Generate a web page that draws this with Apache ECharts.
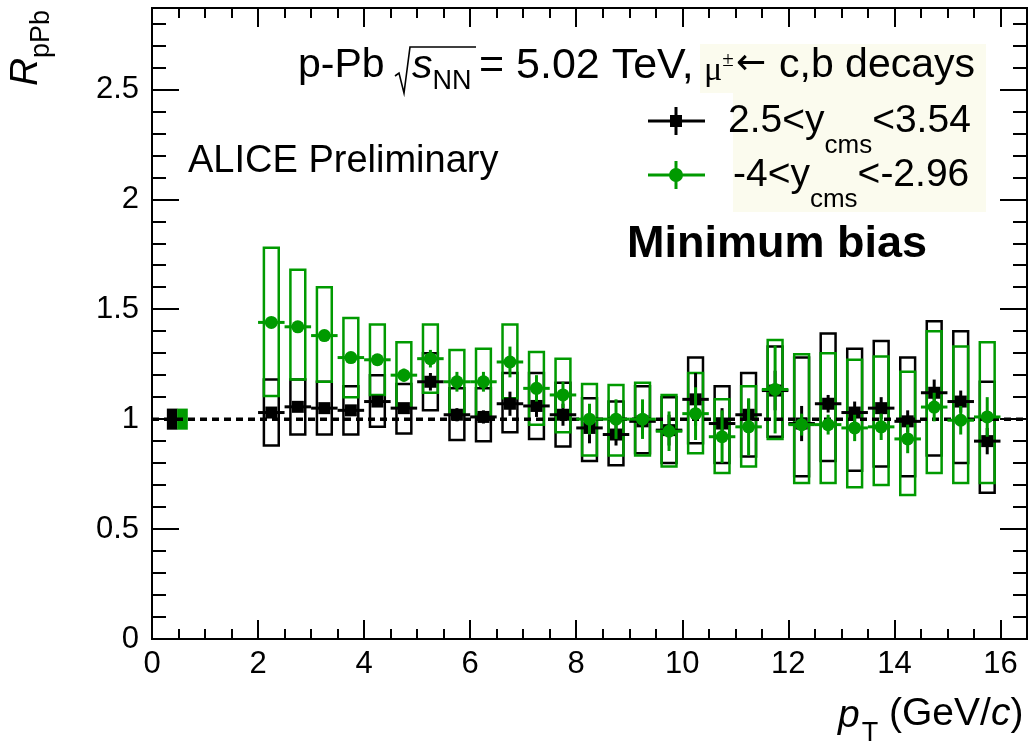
<!DOCTYPE html>
<html><head><meta charset="utf-8">
<script src="https://cdn.jsdelivr.net/npm/echarts/dist/echarts.min.js"></script>
<style>html,body{margin:0;padding:0;background:#fff}#c{width:1032px;height:744px}</style>
</head><body><div id="c"></div>
<script>
// ---------------- data ----------------
const pt = [2.25,2.75,3.25,3.75,4.25,4.75,5.25,5.75,6.25,6.75,7.25,7.75,8.25,8.75,9.25,9.75,10.25,10.75,11.25,11.75,12.25,12.75,13.25,13.75,14.25,14.75,15.25,15.75];
const binHalfWidth = 0.25;

// 2.5 < y_cms < 3.54 (black)
const fwdVal   = [1.03,1.056,1.05,1.04,1.08,1.05,1.17,1.02,1.01,1.07,1.06,1.02,0.96,0.93,0.99,0.95,1.09,0.98,1.02,1.13,0.98,1.07,1.03,1.05,0.99,1.12,1.08,0.90];
const fwdStat  = [0.02,0.02,0.02,0.02,0.02,0.02,0.04,0.03,0.03,0.055,0.05,0.05,0.07,0.05,0.06,0.07,0.12,0.07,0.07,0.09,0.08,0.04,0.05,0.05,0.05,0.06,0.05,0.06];
const fwdSysLo = [0.88,0.93,0.93,0.93,0.965,0.935,1.04,0.905,0.90,0.94,0.91,0.875,0.81,0.79,0.845,0.80,0.89,0.80,0.83,0.92,0.74,0.81,0.765,0.785,0.74,0.835,0.80,0.665];
const fwdSysHi = [1.18,1.18,1.17,1.15,1.20,1.16,1.30,1.14,1.14,1.21,1.21,1.165,1.095,1.08,1.15,1.10,1.28,1.15,1.21,1.33,1.28,1.39,1.32,1.355,1.28,1.445,1.40,1.17];

// -4 < y_cms < -2.96 (green)
const bwdVal   = [1.44,1.42,1.38,1.28,1.27,1.20,1.275,1.17,1.17,1.26,1.14,1.11,1.00,1.00,1.00,0.945,1.025,0.92,0.965,1.135,0.975,0.975,0.96,0.965,0.91,1.055,0.995,1.01];
const bwdStat  = [0.01,0.01,0.01,0.02,0.02,0.03,0.04,0.045,0.045,0.07,0.06,0.06,0.07,0.09,0.09,0.09,0.12,0.12,0.13,0.2,0.05,0.045,0.06,0.06,0.065,0.065,0.065,0.09];
const bwdSysLo = [1.105,1.18,1.17,1.10,1.11,1.055,1.12,1.02,1.02,1.095,0.975,0.94,0.835,0.835,0.835,0.785,0.845,0.755,0.785,0.91,0.71,0.71,0.69,0.70,0.655,0.755,0.71,0.71];
const bwdSysHi = [1.78,1.68,1.60,1.46,1.43,1.35,1.43,1.315,1.32,1.43,1.305,1.275,1.16,1.155,1.165,1.11,1.21,1.09,1.15,1.36,1.295,1.30,1.27,1.285,1.215,1.40,1.33,1.35];

// normalisation uncertainties (boxes at R=1)
const normX   = [0.38, 0.575];
const normUnc = [0.048, 0.048];

const xTicks = [0,2,4,6,8,10,12,14,16];
const yTicks = [0,0.5,1,1.5,2,2.5];

// ---------------- style ----------------
const FS = '"Liberation Sans", Arial, Helvetica, sans-serif';
const SERIF = '"Liberation Serif", "DejaVu Serif", serif';
const BLACK = '#000000';
const GREEN = '#009a00';
const BOXW = 0.14, NORMW = 0.1;
const X0 = 0, X1 = 16.5, Y0 = 0, Y1 = 2.87;

const chart = echarts.init(document.getElementById('c'), null, {renderer: 'canvas'});

const lineStyle = {color: '#000', width: 2};
function xAx(pos, interval, len, lab) {
  return {type: 'value', gridIndex: 0, position: pos, min: X0, max: X1, interval: interval,
    axisLine: {show: true, onZero: false, lineStyle: lineStyle},
    axisTick: {show: true, inside: true, length: len, lineStyle: lineStyle},
    axisLabel: {show: lab, showMaxLabel: false, showMinLabel: true, color: '#000', fontSize: 31, fontFamily: FS, margin: 10,
      formatter: v => xTicks.indexOf(v) >= 0 ? String(v) : ''},
    splitLine: {show: false}, minorTick: {show: false}};
}
function yAx(pos, interval, len, lab) {
  return {type: 'value', gridIndex: 0, position: pos, min: Y0, max: Y1, interval: interval,
    axisLine: {show: true, onZero: false, lineStyle: lineStyle},
    axisTick: {show: true, inside: true, length: len, lineStyle: lineStyle},
    axisLabel: {show: lab, showMaxLabel: false, showMinLabel: true, color: '#000', fontSize: 31, fontFamily: FS, margin: 13,
      formatter: v => { const i = yTicks.findIndex(t => Math.abs(t - v) < 1e-6); return i >= 0 ? String(yTicks[i]) : ''; }},
    splitLine: {show: false}, minorTick: {show: false}};
}

function boxRender(color) {
  return function (params, api) {
    const x = api.value(0), lo = api.value(1), hi = api.value(2);
    const p1 = api.coord([x - BOXW, hi]), p2 = api.coord([x + BOXW, lo]);
    return {type: 'rect', shape: {x: p1[0], y: p1[1], width: p2[0] - p1[0], height: p2[1] - p1[1]},
      style: {fill: 'none', stroke: color, lineWidth: 2.5, opacity: 1}};
  };
}
function errRender(color) {
  return function (params, api) {
    const x = api.value(0), v = api.value(1), e = api.value(2);
    const t = api.coord([x, v + e]), b = api.coord([x, v - e]);
    const l = api.coord([x - binHalfWidth, v]), r = api.coord([x + binHalfWidth, v]);
    return {type: 'group', children: [
      {type: 'line', shape: {x1: t[0], y1: t[1], x2: b[0], y2: b[1]}, style: {stroke: color, lineWidth: 3, opacity: 1}},
      {type: 'line', shape: {x1: l[0], y1: l[1], x2: r[0], y2: r[1]}, style: {stroke: color, lineWidth: 3, opacity: 1}}
    ]};
  };
}
function normRender(params, api) {
  const x = api.value(0), u = api.value(1);
  const p1 = api.coord([x - NORMW, 1 + u]), p2 = api.coord([x + NORMW, 1 - u]);
  return {type: 'rect', shape: {x: p1[0], y: p1[1], width: p2[0] - p1[0], height: p2[1] - p1[1]},
    style: {fill: params.dataIndex === 0 ? BLACK : GREEN, opacity: 1}};
}

// text layout helper
const mctx = document.createElement('canvas').getContext('2d');
function tw(t, font) { mctx.font = font; return mctx.measureText(t).width; }
function seq(x, pieces) {
  const out = []; let cx = x;
  for (const p of pieces) {
    const font = (p.italic ? 'italic ' : '') + (p.bold ? 'bold ' : '') + p.size + 'px ' + (p.family || FS);
    cx += (p.dx || 0);
    out.push({type: 'text', x: cx, y: p.y, z: 100,
      style: {text: p.t, font: font, fill: p.fill || '#000', textAlign: 'left', textVerticalAlign: 'middle', align: 'left', verticalAlign: 'middle'}});
    cx += tw(p.t, font);
  }
  return out;
}

const graphics = [];
// light legend background
graphics.push({type: 'rect', shape: {x: 700, y: 44, width: 286, height: 49}, style: {fill: '#fbfbee'}, z: 50});
graphics.push({type: 'rect', shape: {x: 733, y: 93, width: 253, height: 119}, style: {fill: '#fbfbee'}, z: 50});
// header
graphics.push(...seq(298, [{t: 'p-Pb', size: 41, y: 66}]));
graphics.push({type: 'polyline', shape: {points: [[395, 76], [399, 73], [404, 93], [410, 47], [476, 47]]}, style: {stroke: '#000', lineWidth: 1.6, fill: null}, z: 100});
graphics.push(...seq(412, [{t: 's', size: 41, y: 67, italic: true}, {t: 'NN', size: 27, y: 82}]));
graphics.push(...seq(479, [{t: '= 5.02 TeV,', size: 43, y: 66}]));
graphics.push(...seq(704, [{t: 'μ', size: 34, y: 71, family: SERIF}, {t: '±', size: 21, y: 60, family: SERIF}]));
graphics.push(...seq(736, [{t: '←', size: 36, y: 65, family: '"DejaVu Sans", sans-serif'}]));
graphics.push(...seq(779, [{t: 'c,b decays', size: 41, y: 66}]));
// legend rows
graphics.push({type: 'line', shape: {x1: 648, y1: 121, x2: 705, y2: 121}, style: {stroke: BLACK, lineWidth: 3}, z: 100});
graphics.push({type: 'line', shape: {x1: 676, y1: 107, x2: 676, y2: 135}, style: {stroke: BLACK, lineWidth: 3}, z: 100});
graphics.push({type: 'rect', shape: {x: 670, y: 115, width: 12, height: 12}, style: {fill: BLACK}, z: 100});
graphics.push(...seq(728, [{t: '2.5<y', size: 39, y: 121}, {t: 'cms', size: 26, y: 146}, {t: '<3.54', size: 39, y: 121}]));
graphics.push({type: 'line', shape: {x1: 648, y1: 175, x2: 705, y2: 175}, style: {stroke: GREEN, lineWidth: 3}, z: 100});
graphics.push({type: 'line', shape: {x1: 676, y1: 161, x2: 676, y2: 189}, style: {stroke: GREEN, lineWidth: 3}, z: 100});
graphics.push({type: 'circle', shape: {cx: 676, cy: 175, r: 7}, style: {fill: GREEN}, z: 100});
graphics.push(...seq(733, [{t: '-4<y', size: 39, y: 175}, {t: 'cms', size: 26, y: 200}, {t: '<-2.96', size: 39, y: 175}]));
// annotations
graphics.push(...seq(188, [{t: 'ALICE Preliminary', size: 38, y: 162}]));
graphics.push(...seq(627, [{t: 'Minimum bias', size: 45, y: 245, bold: true}]));
// x-axis title
graphics.push(...seq(838, [{t: 'p', size: 39, y: 716, italic: true}, {t: 'T', size: 27, y: 734, dx: 2}, {t: ' (GeV/', size: 39, y: 714}, {t: 'c', size: 39, y: 714, italic: true}, {t: ')', size: 39, y: 714}]));
// y-axis title (rotated)
graphics.push({type: 'group', x: 26, y: 86, rotation: Math.PI / 2, z: 100, children: [
  {type: 'text', x: 0, y: 0, style: {text: 'R', font: 'italic 39px ' + FS, fill: '#000', textAlign: 'left', textVerticalAlign: 'middle', align: 'left', verticalAlign: 'middle'}},
  {type: 'text', x: 28, y: 16, style: {text: 'pPb', font: '27px ' + FS, fill: '#000', textAlign: 'left', textVerticalAlign: 'middle', align: 'left', verticalAlign: 'middle'}}
]});

const option = {
  backgroundColor: '#fff',
  animation: false,
  grid: {left: 152, right: 5, top: 8, bottom: 105, containLabel: false, outerBoundsMode: 'none'},
  xAxis: [xAx('bottom', 2, 19, true), xAx('bottom', 0.5, 10, false), xAx('top', 2, 19, false), xAx('top', 0.5, 10, false)],
  yAxis: [yAx('left', 0.5, 27, true), yAx('left', 0.1, 14, false), yAx('right', 0.5, 27, false), yAx('right', 0.1, 14, false)],
  graphic: graphics,
  series: [
    {type: 'custom', name: 'norm', xAxisIndex: 0, yAxisIndex: 0, renderItem: normRender, data: normX.map((x, i) => [x, normUnc[i]]), z: 3, silent: true},
    {type: 'custom', name: 'fwdSys', xAxisIndex: 0, yAxisIndex: 0, renderItem: boxRender(BLACK), data: pt.map((x, i) => [x, fwdSysLo[i], fwdSysHi[i]]), z: 3, silent: true},
    {type: 'custom', name: 'bwdSys', xAxisIndex: 0, yAxisIndex: 0, renderItem: boxRender(GREEN), data: pt.map((x, i) => [x, bwdSysLo[i], bwdSysHi[i]]), z: 4, silent: true},
    {type: 'line', name: 'unity', xAxisIndex: 0, yAxisIndex: 0, data: [[X0, 1], [X1, 1]], symbol: 'none', silent: true,
      lineStyle: {color: '#000', width: 3.5, type: [7, 5], opacity: 1}, z: 5},
    {type: 'custom', name: 'fwdStat', xAxisIndex: 0, yAxisIndex: 0, renderItem: errRender(BLACK), data: pt.map((x, i) => [x, fwdVal[i], fwdStat[i]]), z: 6, silent: true},
    {type: 'scatter', name: '2.5<ycms<3.54', xAxisIndex: 0, yAxisIndex: 0, symbol: 'rect', symbolSize: 12, itemStyle: {color: BLACK, opacity: 1}, silent: true, data: pt.map((x, i) => [x, fwdVal[i]]), z: 7},
    {type: 'custom', name: 'bwdStat', xAxisIndex: 0, yAxisIndex: 0, renderItem: errRender(GREEN), data: pt.map((x, i) => [x, bwdVal[i], bwdStat[i]]), z: 8, silent: true},
    {type: 'scatter', name: '-4<ycms<-2.96', xAxisIndex: 0, yAxisIndex: 0, symbol: 'circle', symbolSize: 13, itemStyle: {color: GREEN, opacity: 1}, silent: true, data: pt.map((x, i) => [x, bwdVal[i]]), z: 9}
  ]
};
chart.setOption(option);
</script>
</body></html>
